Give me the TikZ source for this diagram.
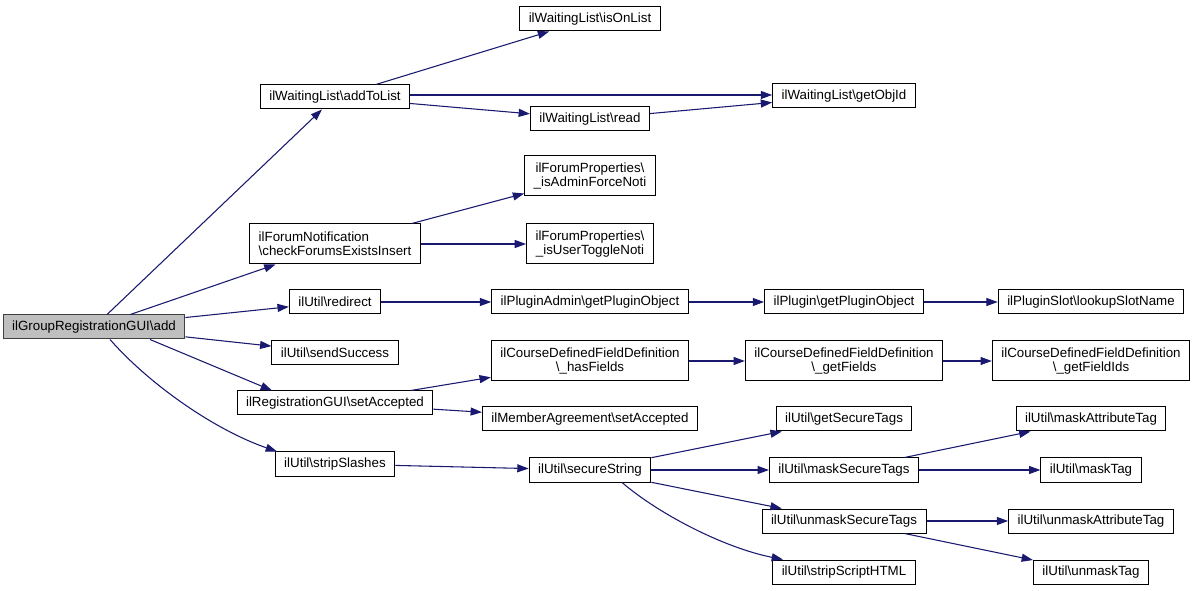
\documentclass[tikz,border=0pt]{standalone}
\usepackage{fontspec}
\setmainfont{Liberation Sans}
\usetikzlibrary{arrows.meta,calc}
\definecolor{edgecol}{HTML}{191970}
\definecolor{rootfill}{HTML}{BFBFBF}
\newcommand{\bs}{\textbackslash}
\begin{document}
\begin{tikzpicture}[x=0.75pt,y=-0.75pt,
  fn/.style={draw=black, line width=0.75pt, fill=white, font=\fontsize{10}{10.5}\selectfont, align=center, inner xsep=6.75pt, inner ysep=2pt, minimum height=18pt},
  fntwo/.style={fn, minimum height=30pt},
  root/.style={fn, fill=rootfill, draw=black!75},
  call/.style={draw=edgecol, line width=0.8pt, -{Triangle[length=8.5pt,width=6pt]}}]
\useasboundingbox (0,0) rectangle (1196,591);
\fill[white] (0,0) rectangle (1196,591);

\node[root] (add) at (94,327) {ilGroupRegistrationGUI\bs add};

\node[fn] (addToList) at (335,97) {ilWaitingList\bs addToList};
\node[fntwo, align=left] (checkForums) at (335,244) {ilForumNotification\\\bs checkForumsExistsInsert};
\node[fn] (redirect) at (335,302) {ilUtil\bs redirect};
\node[fn] (sendSuccess) at (335,353) {ilUtil\bs sendSuccess};
\node[fn] (setAccepted) at (335,403) {ilRegistrationGUI\bs setAccepted};
\node[fn] (stripSlashes) at (335,464) {ilUtil\bs stripSlashes};

\node[fn] (isOnList) at (590,19) {ilWaitingList\bs isOnList};
\node[fn] (read) at (590,119) {ilWaitingList\bs read};
\node[fntwo] (isAdmin) at (590,176) {ilForumProperties\bs\\\_isAdminForceNoti};
\node[fntwo] (isUser) at (590,244) {ilForumProperties\bs\\\_isUserToggleNoti};
\node[fn] (pluginAdmin) at (590,302) {ilPluginAdmin\bs getPluginObject};
\node[fntwo] (hasFields) at (590,361) {ilCourseDefinedFieldDefinition\\\bs\_hasFields};
\node[fn] (memberAgr) at (590,419) {ilMemberAgreement\bs setAccepted};
\node[fn] (secureString) at (590,470) {ilUtil\bs secureString};

\node[fn] (getObjId) at (844,96) {ilWaitingList\bs getObjId};
\node[fn] (plugin) at (844,302) {ilPlugin\bs getPluginObject};
\node[fntwo] (getFields) at (844,361) {ilCourseDefinedFieldDefinition\\\bs\_getFields};
\node[fn] (getSecure) at (844,419) {ilUtil\bs getSecureTags};
\node[fn] (maskSecure) at (844,470) {ilUtil\bs maskSecureTags};
\node[fn] (unmaskSecure) at (844,521) {ilUtil\bs unmaskSecureTags};
\node[fn] (stripScript) at (844,572) {ilUtil\bs stripScriptHTML};

\node[fn] (lookupSlot) at (1091,302) {ilPluginSlot\bs lookupSlotName};
\node[fntwo] (getFieldIds) at (1091,361) {ilCourseDefinedFieldDefinition\\\bs\_getFieldIds};
\node[fn] (maskAttr) at (1091,419) {ilUtil\bs maskAttributeTag};
\node[fn] (maskTag) at (1091,470) {ilUtil\bs maskTag};
\node[fn] (unmaskAttr) at (1091,521) {ilUtil\bs unmaskAttributeTag};
\node[fn] (unmaskTag) at (1091,572) {ilUtil\bs unmaskTag};

% edges from root
\draw[call] (add) -- (addToList);
\draw[call] (add) -- (checkForums);
\draw[call] (add) -- (redirect);
\draw[call] (add) -- (sendSuccess);
\draw[call] ($(add.south)+(56,0)$) -- ($(setAccepted.north)+(-63,0)$);
\draw[call] ($(add.south)+(16,0)$) .. controls (150,385) and (215,430) .. ($(stripSlashes.north)+(-58,0)$);

% addToList
\draw[call] (addToList) -- (isOnList);
\draw[call] ($(addToList.east)+(0,-2)$) -- ($(getObjId.west)+(0,-1)$);
\draw[call] (addToList) -- (read);
\draw[call] (read) -- (getObjId);

% forum
\draw[call] (checkForums) -- (isAdmin);
\draw[call] (checkForums.east) -- (isUser.west);

% plugin chain
\draw[call] (redirect) -- (pluginAdmin);
\draw[call] (pluginAdmin) -- (plugin);
\draw[call] (plugin) -- (lookupSlot);

% setAccepted
\draw[call] (setAccepted) -- (hasFields);
\draw[call] (setAccepted) -- (memberAgr);
\draw[call] (hasFields) -- (getFields);
\draw[call] (getFields) -- (getFieldIds);

% strip slashes
\draw[call] (stripSlashes) -- (secureString);
\draw[call] (secureString) -- (getSecure);
\draw[call] (secureString) -- (maskSecure);
\draw[call] (secureString) -- (unmaskSecure);
\draw[call] ($(secureString.south)+(32,0)$) .. controls (660,515) and (725,548) .. ($(stripScript.north)+(-61,0)$);
\draw[call] (maskSecure) -- (maskAttr);
\draw[call] (maskSecure) -- (maskTag);
\draw[call] (unmaskSecure) -- (unmaskAttr);
\draw[call] (unmaskSecure) -- (unmaskTag);
\end{tikzpicture}
\end{document}
